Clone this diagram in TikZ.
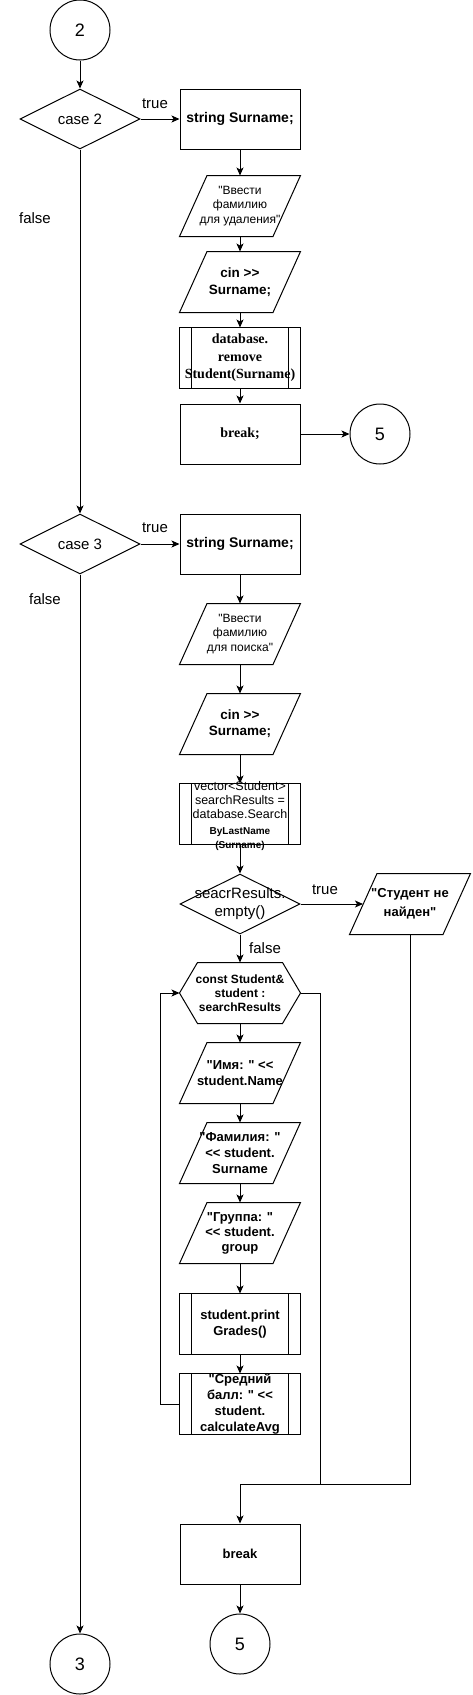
\documentclass[tikz,border=0pt]{standalone}
\usepackage{fontspec}
\setmainfont{Liberation Sans}[Ligatures=TeXOff]
\newfontfamily\serifb{Liberation Serif}[Ligatures=TeXOff]
\usetikzlibrary{shapes.geometric,arrows.meta}
\newcommand{\myfs}[2]{\fontsize{#1}{#2}\selectfont}
\newcommand{\dgt}{>\kern0pt>}
\newcommand{\dlt}{<\kern0pt<}
\newcommand{\iodraw}[1]{\draw ([xshift=27.5pt]#1.north west) -- (#1.north east) -- ([xshift=-27.5pt]#1.south east) -- (#1.south west) -- cycle;}
\newcommand{\pddraw}[1]{\draw (#1.north west) rectangle (#1.south east);
  \draw ([xshift=12pt]#1.north west) -- ([xshift=12pt]#1.south west);
  \draw ([xshift=-12pt]#1.north east) -- ([xshift=-12pt]#1.south east);}
\newcommand{\hxdraw}[1]{\draw (#1.west) -- ([xshift=18pt]#1.north west) -- ([xshift=-18pt]#1.north east) -- (#1.east) -- ([xshift=-18pt]#1.south east) -- ([xshift=18pt]#1.south west) -- cycle;}
\begin{document}
\begin{tikzpicture}[x=1pt,y=-1pt,
  line width=1pt,
  >={Stealth[length=8pt,width=7pt,inset=2pt]},
  shp/.style={rectangle, minimum width=120pt, minimum height=60pt, inner sep=0pt},
  box/.style={shp, draw},
  dia/.style={diamond, draw, minimum width=120pt, minimum height=60pt, inner sep=0pt},
  conn/.style={circle, draw, minimum size=60pt, inner sep=0pt, font=\myfs{18}{20}},
  txt/.style={align=center, inner sep=0pt, font=\myfs{13}{16}\bfseries},
  lbl/.style={font=\myfs{15}{18}, inner sep=0pt},
  flow/.style={->}
]
\useasboundingbox (0,0) rectangle (472,1695);

% ---- case 2 ----
\node[conn] (c2) at (80,30) {2};
\node[dia] (d2) at (80,119) {};
\node[lbl] (d2t) at (d2) {case 2};
\node[box] (r1) at (240,119) {};
\node[txt, font=\myfs{14}{17}\bfseries] (r1t) at (r1) {string Surname;};
\node[shp] (io1) at (240,206) {}; \iodraw{io1}
\node[txt, font=\myfs{12}{14.4}] (io1t) at (io1) {"Ввести\\фамилию\\для удаления"};
\node[shp] (io2) at (240,282) {}; \iodraw{io2}
\node[txt, font=\myfs{13.5}{16.5}\bfseries] (io2t) at (io2) {cin \dgt\\Surname;};
\node[shp] (p1) at (240,358) {}; \pddraw{p1}
\node[txt, font=\serifb\myfs{14}{17.5}\bfseries] (p1t) at (p1) {database.\\remove\\Student(Surname)};
\node[box] (b1) at (240,434) {};
\node[txt, font=\serifb\myfs{14}{17}\bfseries] (b1t) at (b1) {break;};
\node[conn] (c5a) at (380,434) {5};

\node[lbl] (t1) at (155,104) {true};
\node[lbl] (f1) at (35,218) {false};

% ---- case 3 ----
\node[dia] (d3) at (80,544) {};
\node[lbl] (d3t) at (d3) {case 3};
\node[box] (r2) at (240,544) {};
\node[txt, font=\myfs{14}{17}\bfseries] (r2t) at (r2) {string Surname;};
\node[shp] (io3) at (240,634) {}; \iodraw{io3}
\node[txt, font=\myfs{12}{14.4}] (io3t) at (io3) {"Ввести\\фамилию\\для поиска"};
\node[shp] (io4) at (240,724) {}; \iodraw{io4}
\node[txt, font=\myfs{13.5}{16}\bfseries] (io4t) at (io4) {cin \dgt\\Surname;};
\node[shp] (p2) at (240,814) {}; \pddraw{p2}
\node[txt, font=\myfs{12.5}{14}] (p2t) at ([yshift=-1.5pt]p2) {vector<Student>\\searchResults =\\database.Search\\[2pt]{\myfs{10}{14}\bfseries ByLastName}\\{\myfs{10}{14}\bfseries (Surname)}};
\node[dia] (d4) at (240,904) {};
\node[lbl, align=center, font=\myfs{15}{18}] (d4t) at (d4) {seacrResults.\\empty()};
\node[shp] (io5) at (410,904) {}; \iodraw{io5}
\node[txt, font=\myfs{13}{19}\bfseries] (io5t) at (io5) {"Студент не\\найден"};
\node[shp] (hx) at (240,993) {}; \hxdraw{hx}
\node[txt, font=\myfs{12}{14}\bfseries] (hxt) at (hx) {const Student\&\\student :\\searchResults};
\node[shp] (io6) at (240,1073) {}; \iodraw{io6}
\node[txt] (io6t) at (io6) {"Имя: " \dlt\\student.Name};
\node[shp] (io7) at (240,1153) {}; \iodraw{io7}
\node[txt] (io7t) at (io7) {"Фамилия: "\\\dlt{} student.\\Surname};
\node[shp] (io8) at (240,1233) {}; \iodraw{io8}
\node[txt, font=\myfs{13}{15}\bfseries] (io8t) at (io8) {"Группа: "\\\dlt{} student.\\group};
\node[shp] (p3) at (240,1324) {}; \pddraw{p3}
\node[txt] (p3t) at (p3) {student.print\\Grades()};
\node[shp] (p4) at (240,1404) {}; \pddraw{p4}
\node[txt, font=\myfs{13}{15.7}\bfseries] (p4t) at (p4) {"Средний\\балл: " \dlt\\student.\\calculateAvg};
\node[box] (b2) at (240,1554) {};
\node[txt] (b2t) at (b2) {break};
\node[conn] (c5b) at (240,1644) {5};
\node[conn] (c3) at (80,1664) {3};
\coordinate (m) at (240,1484);

\node[lbl] (t2) at (155,528) {true};
\node[lbl] (f2) at (45,599) {false};
\node[lbl] (t3) at (325,890) {true};
\node[lbl] (f3) at (265,948) {false};

% ---- connectors ----
\draw[flow] (c2.south) -- (d2.north);
\draw[flow] (d2.east) -- (r1.west);
\draw[flow] (r1.south) -- (io1.north);
\draw[flow] (io1.south) -- (io2.north);
\draw[flow] (io2.south) -- (p1.north);
\draw[flow] (p1.south) -- (b1.north);
\draw[flow] (b1.east) -- (c5a.west);
\draw[flow] (d2.south) -- (d3.north);
\draw[flow] (d3.east) -- (r2.west);
\draw[flow] (r2.south) -- (io3.north);
\draw[flow] (io3.south) -- (io4.north);
\draw[flow] (io4.south) -- (p2.north);
\draw[flow] (p2.south) -- (d4.north);
\draw[flow] (d4.east) -- ([xshift=13.5pt]io5.west);
\draw[flow] (d4.south) -- (hx.north);
\draw[flow] (hx.south) -- (io6.north);
\draw[flow] (io6.south) -- (io7.north);
\draw[flow] (io7.south) -- (io8.north);
\draw[flow] (io8.south) -- (p3.north);
\draw[flow] (p3.south) -- (p4.north);
\draw[flow] (p4.west) -- ++(-19,0) |- (hx.west);
\draw (hx.east) -- ++(20,0) |- (m);
\draw (io5.south) |- (m);
\draw[flow] (m) -- (b2.north);
\draw[flow] (b2.south) -- (c5b.north);
\draw[flow] (d3.south) -- (c3.north);
\end{tikzpicture}
\end{document}
